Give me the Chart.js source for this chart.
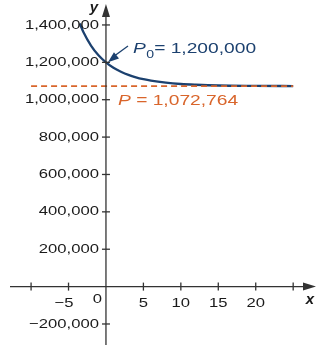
<!DOCTYPE html>
<html>
<head>
<meta charset="utf-8">
<script src="https://cdn.jsdelivr.net/npm/chart.js@4"></script>
<style>
  html, body { margin: 0; padding: 0; background: #fff; }
  canvas { display: block; }
</style>
</head>
<body>
<canvas id="myChart" width="325" height="350"></canvas>
<script>
// population curve
var tValues = [-3.5, -3, -2, -1, 0, 1, 2, 3, 4, 5, 6, 8, 10, 12, 15, 20, 25];
var pValues = [1408000, 1361000, 1290000, 1238000, 1200000, 1171000, 1150000, 1133000,
               1120000, 1110000, 1102000, 1091000, 1084000, 1080000, 1076000, 1074000, 1073000];

// carrying capacity line
var limitX = [-10, 25];
var limitY = [1072764, 1072764];

var xTicks = [-10, -5, 0, 5, 10, 15, 20, 25];
var xTickLabels = ['', '\u22125', '0', '5', '10', '15', '20', ''];
var yTicks = [-200000, 200000, 400000, 600000, 800000, 1000000, 1200000, 1400000];
var yTickLabels = ['\u2212200,000', '200,000', '400,000', '600,000', '800,000', '1,000,000', '1,200,000', '1,400,000'];

var P0 = 1200000;
var curveColor = '#1c416f';
var orange = '#d9652b';
var axisColor = '#333333';

function zip(xs, ys) {
    return xs.map(function (x, i) { return { x: x, y: ys[i] }; });
}

function stretchText(ctx, str, x, y, align) {
    // reference text is a bit wider than normal Liberation Sans
    var sx = 1.28;
    var w = ctx.measureText(str).width * sx;
    var left = x;
    if (align === 'right') left = x - w;
    else if (align === 'center') left = x - w / 2;
    ctx.save();
    ctx.translate(left, y);
    ctx.scale(sx, 1);
    ctx.textAlign = 'left';
    ctx.fillText(str, 0, 0);
    ctx.restore();
    return left + w;
}

var axesPlugin = {
    id: 'axesPlugin',
    afterDraw: function (chart) {
        var ctx = chart.ctx;
        var xs = chart.scales.x, ys = chart.scales.y;
        var x0 = xs.getPixelForValue(0);
        var y0 = ys.getPixelForValue(0);

        ctx.save();
        ctx.strokeStyle = axisColor;
        ctx.fillStyle = axisColor;
        ctx.lineWidth = 1.3;

        // x axis
        ctx.beginPath();
        ctx.moveTo(10, y0);
        ctx.lineTo(306, y0);
        ctx.stroke();
        ctx.beginPath();
        ctx.moveTo(316, y0);
        ctx.lineTo(303, y0 - 4);
        ctx.lineTo(303, y0 + 4);
        ctx.closePath();
        ctx.fill();

        // y axis
        ctx.beginPath();
        ctx.moveTo(x0, 345);
        ctx.lineTo(x0, 14);
        ctx.stroke();
        ctx.beginPath();
        ctx.moveTo(x0, 4);
        ctx.lineTo(x0 - 4, 17);
        ctx.lineTo(x0 + 4, 17);
        ctx.closePath();
        ctx.fill();

        ctx.font = '13px "Liberation Sans", Arial, sans-serif';
        ctx.textBaseline = 'middle';
        ctx.fillStyle = '#1a1a1a';

        // x ticks
        xTicks.forEach(function (v, i) {
            var px = xs.getPixelForValue(v);
            if (v !== 0) {
                ctx.beginPath();
                ctx.moveTo(px, y0 - 4);
                ctx.lineTo(px, y0 + 4);
                ctx.stroke();
            }
            var lab = xTickLabels[i];
            if (!lab) return;
            if (v === 0) {
                stretchText(ctx, lab, x0 - 4, y0 + 13, 'right');
            } else if (v < 0) {
                stretchText(ctx, lab, px + 5, y0 + 17, 'right');
            } else {
                stretchText(ctx, lab, px, y0 + 17, 'center');
            }
        });

        // y ticks
        yTicks.forEach(function (v, i) {
            var py = ys.getPixelForValue(v);
            ctx.beginPath();
            ctx.moveTo(x0 - 4, py);
            ctx.lineTo(x0 + 4, py);
            ctx.stroke();
            stretchText(ctx, yTickLabels[i], x0 - 7, py, 'right');
        });

        // axis names
        ctx.font = 'italic bold 15px "Liberation Sans", Arial, sans-serif';
        ctx.fillStyle = '#1a1a1a';
        ctx.textAlign = 'center';
        ctx.fillText('y', x0 - 12, 8);
        ctx.fillText('x', 310, y0 + 13);

        // P0 annotation with arrow
        var ax = x0 + 2, ay = ys.getPixelForValue(P0);
        ctx.strokeStyle = curveColor;
        ctx.fillStyle = curveColor;
        ctx.lineWidth = 1.3;
        ctx.beginPath();
        ctx.moveTo(128, 46);
        ctx.lineTo(ax + 6, ay - 6);
        ctx.stroke();
        var ang = Math.atan2(ay - 46, ax - 128);
        ctx.beginPath();
        ctx.moveTo(ax, ay);
        ctx.lineTo(ax - 11 * Math.cos(ang) + 4 * Math.sin(ang), ay - 11 * Math.sin(ang) - 4 * Math.cos(ang));
        ctx.lineTo(ax - 11 * Math.cos(ang) - 4 * Math.sin(ang), ay - 11 * Math.sin(ang) + 4 * Math.cos(ang));
        ctx.closePath();
        ctx.fill();

        ctx.textBaseline = 'alphabetic';
        ctx.font = 'italic 15px "Liberation Sans", Arial, sans-serif';
        var e = stretchText(ctx, 'P', 133, 53, 'left');
        ctx.font = '11px "Liberation Sans", Arial, sans-serif';
        e = stretchText(ctx, '0', e + 0.5, 58, 'left');
        ctx.font = '15px "Liberation Sans", Arial, sans-serif';
        stretchText(ctx, '= 1,200,000', e, 53, 'left');

        // carrying capacity label
        ctx.fillStyle = orange;
        ctx.font = 'italic 15px "Liberation Sans", Arial, sans-serif';
        e = stretchText(ctx, 'P', 118, 105, 'left');
        ctx.font = '15px "Liberation Sans", Arial, sans-serif';
        stretchText(ctx, ' = 1,072,764', e, 105, 'left');

        ctx.restore();
    }
};

var ctx = document.getElementById('myChart').getContext('2d');

var myChart = new Chart(ctx, {
    type: 'scatter',
    data: {
        datasets: [{
            label: 'P(t)',
            data: zip(tValues, pValues),
            showLine: true,
            borderColor: curveColor,
            borderWidth: 2.3,
            pointRadius: 0,
            cubicInterpolationMode: 'monotone',
            order: 2
        }, {
            label: 'limit',
            data: zip(limitX, limitY),
            showLine: true,
            borderColor: orange,
            borderWidth: 1.8,
            borderDash: [6, 4],
            pointRadius: 0,
            order: 1
        }]
    },
    options: {
        responsive: false,
        animation: false,
        layout: { padding: 0 },
        plugins: {
            legend: { display: false },
            tooltip: { enabled: false }
        },
        scales: {
            x: { type: 'linear', min: -14.15, max: 29.25, display: false },
            y: { type: 'linear', min: -339200, max: 1533500, display: false }
        }
    },
    plugins: [axesPlugin]
});
</script>
</body>
</html>
